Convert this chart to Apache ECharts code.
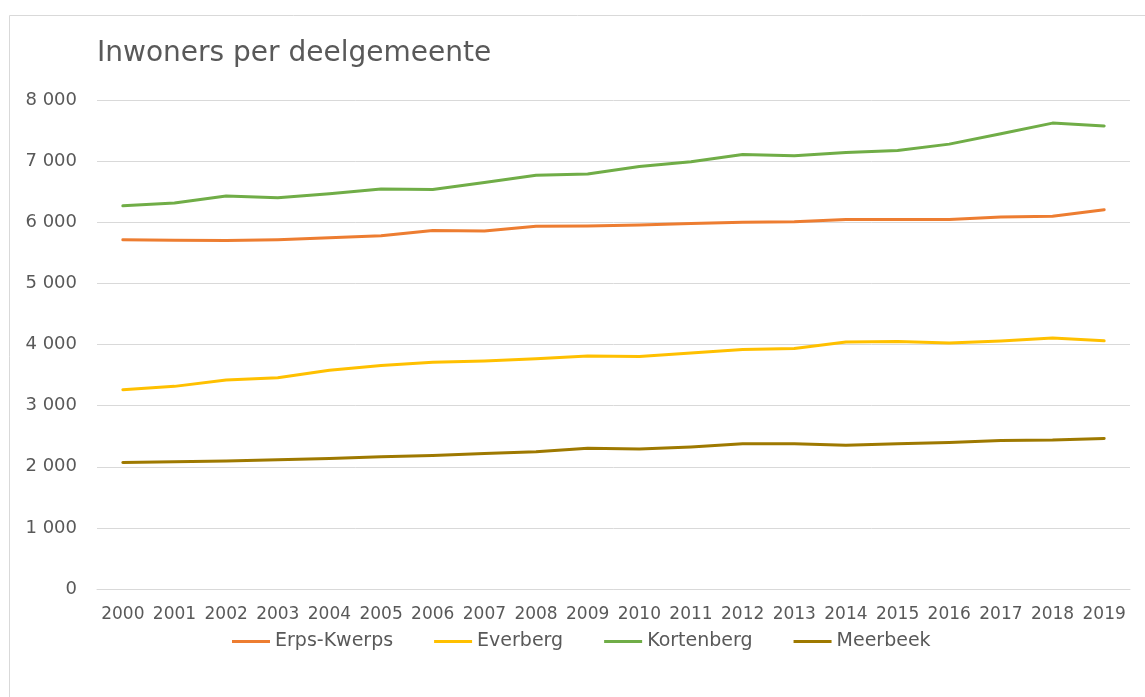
<!DOCTYPE html>
<html lang="nl">
<head>
    <meta charset="utf-8">
    <title>Inwoners per deelgemeente</title>
    <script src="https://cdn.jsdelivr.net/npm/echarts@6/dist/echarts.min.js"></script>
    <style>
        html, body { margin: 0; padding: 0; background: #fff; }
        #main { width: 1145px; height: 697px; }
    </style>
</head>
<body>
<div id="main"></div>
<script type="text/javascript">
    // data
    var years = ['2000','2001','2002','2003','2004','2005','2006','2007','2008','2009',
                 '2010','2011','2012','2013','2014','2015','2016','2017','2018','2019'];
    var erpsKwerps = [5715, 5705, 5700, 5715, 5745, 5780, 5865, 5855, 5935, 5940,
                      5955, 5980, 6000, 6010, 6045, 6045, 6045, 6085, 6100, 6205];
    var everberg   = [3260, 3315, 3420, 3455, 3580, 3655, 3710, 3730, 3765, 3810,
                      3805, 3860, 3918, 3935, 4040, 4050, 4025, 4058, 4105, 4060];
    var kortenberg = [6268, 6315, 6428, 6400, 6466, 6545, 6535, 6650, 6770, 6790,
                      6912, 6990, 7108, 7088, 7142, 7175, 7278, 7448, 7622, 7574];
    var meerbeek   = [2070, 2082, 2093, 2115, 2136, 2162, 2185, 2215, 2245, 2302,
                      2290, 2325, 2375, 2376, 2350, 2376, 2396, 2430, 2436, 2464];
    var yTicks = [0, 1000, 8000];

    var textColor = '#595959';
    var gridColor = '#D9D9D9';
    var font = 'DejaVu Sans';

    var myChart = echarts.init(document.getElementById('main'));

    function line(name, data, color) {
        return {
            name: name,
            type: 'line',
            data: data,
            symbol: 'none',
            lineStyle: { width: 3, color: color, cap: 'round', join: 'round' },
            itemStyle: { color: color }
        };
    }

    var option = {
        animation: false,
        textStyle: { fontFamily: font },
        graphic: [{
            type: 'rect',
            shape: { x: 9.5, y: 15.5, width: 1300, height: 900 },
            style: { fill: 'none', stroke: gridColor, lineWidth: 1 },
            z: -1
        }],
        title: {
            text: 'Inwoners per deelgemeente',
            left: 92,
            top: 35,
            textStyle: { fontFamily: font, fontSize: 28, fontWeight: 'normal', color: textColor }
        },
        legend: {
            left: 227,
            bottom: 41,
            icon: 'rect',
            itemWidth: 38,
            itemHeight: 3,
            itemGap: 41,
            textStyle: { fontFamily: font, fontSize: 19, color: textColor },
            data: ['Erps-Kwerps', 'Everberg', 'Kortenberg', 'Meerbeek']
        },
        grid: {
            left: 97,
            right: 15,
            top: 100,
            bottom: 108
        },
        xAxis: {
            type: 'category',
            data: years,
            boundaryGap: true,
            axisLine: { lineStyle: { color: gridColor, width: 1 } },
            axisTick: { show: false },
            axisLabel: { color: textColor, fontSize: 17, fontFamily: font, margin: 17, interval: 0 }
        },
        yAxis: {
            type: 'value',
            min: yTicks[0],
            max: yTicks[2],
            interval: yTicks[1],
            axisLine: { show: false },
            axisTick: { show: false },
            splitLine: { lineStyle: { color: gridColor, width: 1 } },
            axisLabel: {
                color: textColor, fontSize: 18, fontFamily: font, margin: 20,
                formatter: function (v) {
                    return String(v).replace(/\B(?=(\d{3})+(?!\d))/g, ' ');
                }
            }
        },
        series: [
            line('Erps-Kwerps', erpsKwerps, '#ED7D31'),
            line('Everberg', everberg, '#FFC000'),
            line('Kortenberg', kortenberg, '#70AD47'),
            line('Meerbeek', meerbeek, '#9E7900')
        ]
    };

    myChart.setOption(option);
</script>
</body>
</html>
